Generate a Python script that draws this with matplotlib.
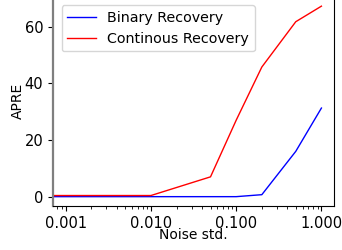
import numpy as np
import matplotlib
matplotlib.use('Agg')
from matplotlib import pyplot as plt
from matplotlib.ticker import FormatStrFormatter

# noise levels (0 gets clipped to the left edge on the log axis)
noise_std = [0, 0.001, 0.01, 0.05, 0.1, 0.2, 0.5, 1.0]
binary_apre = [0.0, 0.0, 0.0, 0.0, 0.0, 0.7, 16.0, 31.3]
continuous_apre = [0.4, 0.4, 0.4, 7.0, 27.0, 45.8, 61.8, 67.3]

fig = plt.figure(figsize=(3.42, 2.5), dpi=100)
ax = fig.add_axes([0.155, 0.176, 0.822, 0.839])

ax.plot(noise_std, binary_apre, color='blue', linewidth=1, label='Binary Recovery')
ax.plot(noise_std, continuous_apre, color='red', linewidth=1, label='Continous Recovery')
ax.set_xscale('log', nonpositive='clip')
ax.set_xlim(0.00071, 1.41)
ax.set_ylim(-3.3, 70.8)
ax.xaxis.set_major_formatter(FormatStrFormatter('%.3f'))
ax.set_xticks([0.001, 0.01, 0.1, 1.0])
ax.set_yticks([0, 20, 40, 60])
ax.tick_params(labelsize=10.5)

ax.spines['left'].set_color('#7f7f7f')
ax.spines['left'].set_linewidth(1.6)

ax.set_xlabel('Noise std.', fontsize=10)
ax.set_ylabel('APRE', fontsize=10)
ax.xaxis.set_label_coords(0.5, -0.105)
ax.yaxis.set_label_coords(-0.1, 0.5)
ax.legend(loc='upper left', fontsize=10.3, borderaxespad=0.6)

fig.savefig('out.png', dpi=100)
